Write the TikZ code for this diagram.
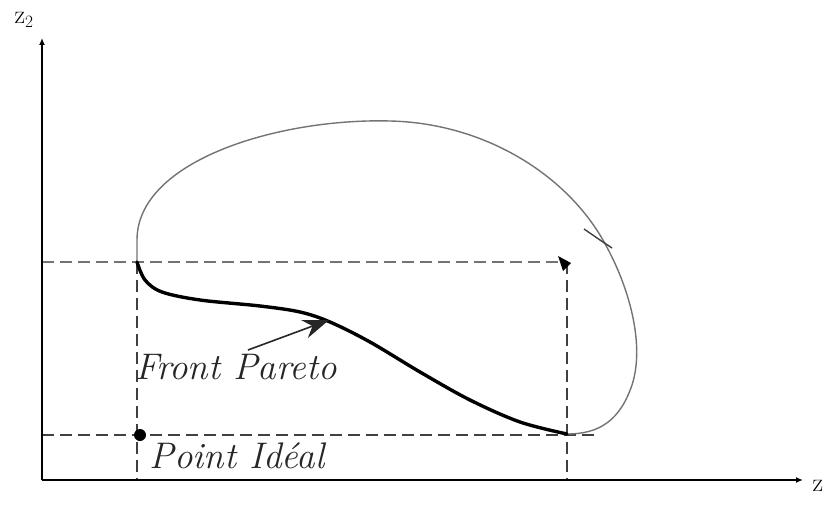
\documentclass[tikz,border=0pt]{standalone}
\usetikzlibrary{arrows.meta}
\begin{document}
\begin{tikzpicture}[x=1pt,y=-1pt,
  axis/.style={line width=2.4pt,black,-{Latex[length=7pt,width=6pt]}},
  guide/.style={dashed,dash pattern=on 12pt off 6pt,line width=1.6pt,black!75},
  outer/.style={line width=1.4pt,black!55},
  front/.style={line width=3.4pt,black,line cap=round},
  lab/.style={font=\fontsize{37}{42}\selectfont\itshape,black!85,inner sep=0pt}]
\useasboundingbox (0,0) rectangle (827,513);
\coordinate (O) at (42,480);
\coordinate (Ytop) at (42,38);
\coordinate (Xend) at (803,480);
\coordinate (A) at (137,262);
\coordinate (B) at (567,434);
\coordinate (C) at (567,262);
\coordinate (AL) at (42,262);
\coordinate (BL) at (42,435);
\coordinate (Ab) at (137,480);
\coordinate (Cb) at (567,480);
\coordinate (BR) at (597,435);
% guides
\draw[guide,black!55] (AL) -- (C);
\draw[guide] (A) -- (Ab);
\draw[guide] (BL) -- (BR);
\draw[guide] (C) -- (Cb);
\fill[black] (558,256) -- (571,263) -- (563,271) -- cycle;
% axes
\draw[axis] (O) -- (Ytop);
\draw[axis] (O) -- (Xend);
\node[font=\fontsize{26}{30}\selectfont,inner sep=0pt] (zx) at (818,486) {z};
\node[font=\fontsize{26}{30}\selectfont,inner sep=0pt] (zy) at (24,20) {z$_2$};
% outer curve
\draw[outer] (A) -- (137,240) .. controls (137,160) and (280,118) .. (390,121)
  .. controls (480,123) and (560,170) .. (600,235)
  .. controls (630,285) and (645,345) .. (632,385)
  .. controls (620,420) and (600,434) .. (B);
\draw[line width=1.4pt,black!75] (584,229) -- (600,240) -- (612,248);
% front
\draw[front] plot[smooth,tension=0.55] coordinates {(137,262) (145,280) (162,292) (200,300) (260,306) (300,312) (330,322) (370,342) (420,372) (470,400) (520,422) (567,434)};
\coordinate (F) at (329,320);
% ideal point
\fill[black] (140,435) circle (6pt);
\node (ideal) at (140,435) {};
% labels
\node[lab] (fp) at (236,367) {Front Pareto};
\node[lab] (pi) at (237,456) {Point Id\'eal};
\draw[line width=1.6pt,black!85,-{Stealth[length=26pt,width=19pt]}] (248,350) -- (F);
\end{tikzpicture}
\end{document}
